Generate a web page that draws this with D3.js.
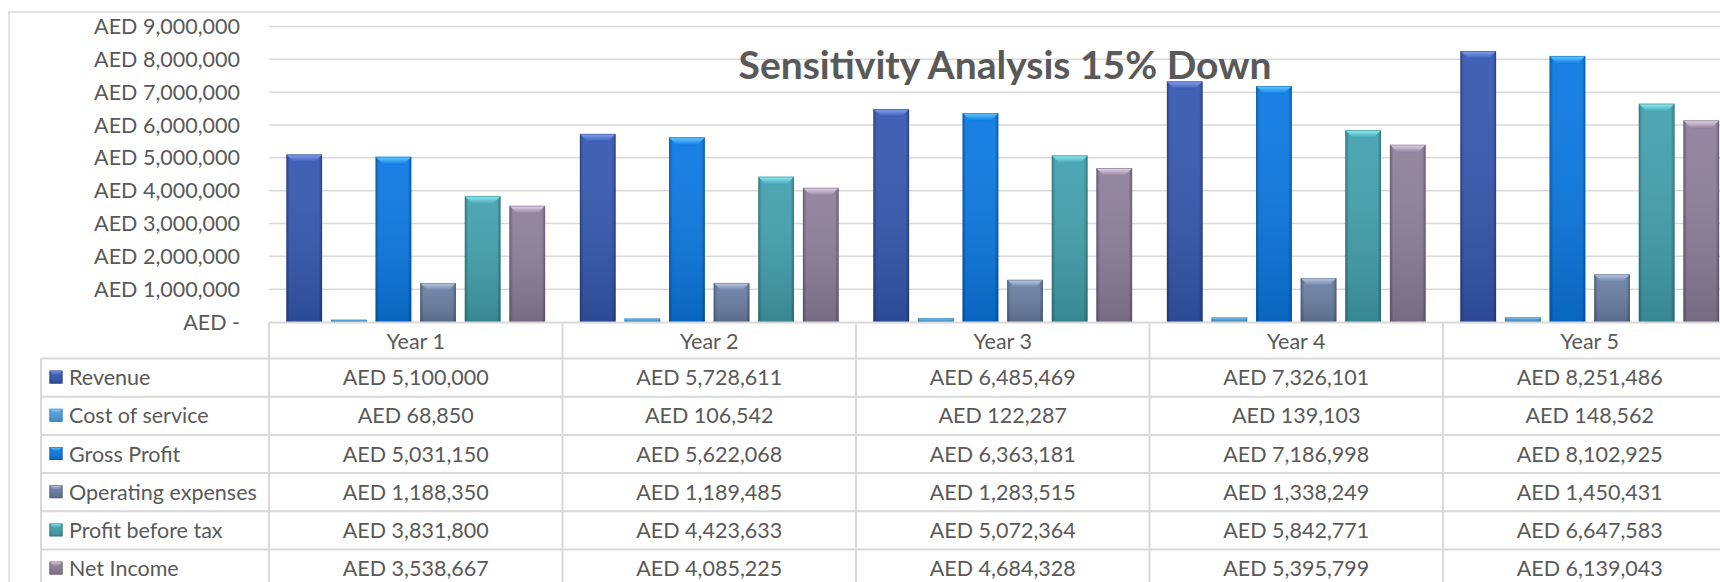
<!DOCTYPE html>
<html>
<head>
<meta charset="utf-8">
<script src="https://cdn.jsdelivr.net/npm/d3@7"></script>
<style>
  html, body { margin: 0; padding: 0; background: #ffffff; overflow: hidden; }
  svg { display: block; }
  text { font-family: Lato, "Noto Sans", sans-serif; fill: #595959; }
</style>
</head>
<body>
<svg id="chart" width="1720" height="582"></svg>
<script>
// ---- data ----
const years = ["Year 1", "Year 2", "Year 3", "Year 4", "Year 5"];
const seriesNames = ["Revenue", "Cost of service", "Gross Profit", "Operating expenses", "Profit before tax", "Net Income"];
const revenue           = [5100000, 5728611, 6485469, 7326101, 8251486];
const costOfService     = [68850, 106542, 122287, 139103, 148562];
const grossProfit       = [5031150, 5622068, 6363181, 7186998, 8102925];
const operatingExpenses = [1188350, 1189485, 1283515, 1338249, 1450431];
const profitBeforeTax   = [3831800, 4423633, 5072364, 5842771, 6647583];
const netIncome         = [3538667, 4085225, 4684328, 5395799, 6139043];
const yTicks = [0, 1000000, 2000000, 3000000, 4000000, 5000000, 6000000, 7000000, 8000000, 9000000];
const chartTitle = "Sensitivity Analysis 15% Down";

const seriesValues = [revenue, costOfService, grossProfit, operatingExpenses, profitBeforeTax, netIncome];

// per-series palette: body, bevel highlight, edge shade
const palette = [
  { base: "#3558b0", light: "#86a2f0", dark: "#243c82" },
  { base: "#4f9fdc", light: "#9ad0f4", dark: "#357fbc" },
  { base: "#0b79e3", light: "#66cdff", dark: "#0055ad" },
  { base: "#6a7fa3", light: "#bccbe6", dark: "#4a5a7a" },
  { base: "#42a1ae", light: "#93eef6", dark: "#2a747e" },
  { base: "#8d7f99", light: "#e6d6ee", dark: "#645870" }
];

// ---- layout ----
const W = 1720, H = 582;
const plotLeft = 269, bandStep = 293.5;
const yZero = 322, yTop = 26.5;
const tableLeft = 41;
const headerH = 36.5, rowH = 38.2;
const fontSize = 21.5;

const svg = d3.select("#chart");
const defs = svg.append("defs");

const x0 = d3.scaleBand().domain(years)
  .range([plotLeft, plotLeft + bandStep * years.length]).padding(0);
const x1 = d3.scaleBand().domain(seriesNames)
  .range([0, x0.bandwidth()]).paddingInner(0.2).paddingOuter(0.39);
const y = d3.scaleLinear().domain([0, 9000000]).range([yZero, yTop]);

const fmt = d => d === 0 ? "AED -" : "AED " + d3.format(",")(d);

// gradients for the bevelled bars
palette.forEach((p, i) => {
  const body = defs.append("linearGradient").attr("id", "body" + i)
    .attr("x1", 0).attr("x2", 1).attr("y1", 0).attr("y2", 0);
  body.append("stop").attr("offset", "0%").attr("stop-color", p.dark);
  body.append("stop").attr("offset", "10%").attr("stop-color", p.base);
  body.append("stop").attr("offset", "90%").attr("stop-color", p.base);
  body.append("stop").attr("offset", "100%").attr("stop-color", p.dark);

  const top = defs.append("linearGradient").attr("id", "top" + i)
    .attr("x1", 0).attr("x2", 0).attr("y1", 0).attr("y2", 1);
  top.append("stop").attr("offset", "0%").attr("stop-color", p.light);
  top.append("stop").attr("offset", "100%").attr("stop-color", p.base);
});
const shade = defs.append("linearGradient").attr("id", "shade")
  .attr("x1", 0).attr("x2", 0).attr("y1", 0).attr("y2", 1);
shade.append("stop").attr("offset", "0%").attr("stop-color", "#ffffff").attr("stop-opacity", 0.06);
shade.append("stop").attr("offset", "100%").attr("stop-color", "#000000").attr("stop-opacity", 0.16);

// outer chart frame
svg.append("rect")
  .attr("x", 9).attr("y", 12).attr("width", W + 40).attr("height", H + 40)
  .attr("fill", "none").attr("stroke", "#d9d9d9").attr("stroke-width", 1.5);

// gridlines
svg.append("g").selectAll("line").data(yTicks.filter(t => t > 0)).join("line")
  .attr("x1", plotLeft).attr("x2", W + 20)
  .attr("y1", d => y(d)).attr("y2", d => y(d))
  .attr("stroke", "#d9d9d9").attr("stroke-width", 1.5);

// y axis labels
svg.append("g").selectAll("text").data(yTicks).join("text")
  .attr("x", 240).attr("y", d => y(d)).attr("dy", "0.35em")
  .attr("text-anchor", "end").attr("font-size", fontSize)
  .text(fmt);

// bevelled bar shape
function drawBar(g, x, yTopPx, w, h, i, bev) {
  const b = Math.min(bev, h / 2, w / 2);
  g.append("rect").attr("x", x).attr("y", yTopPx).attr("width", w).attr("height", h)
    .attr("fill", `url(#body${i})`);
  g.append("rect").attr("x", x).attr("y", yTopPx).attr("width", w).attr("height", h)
    .attr("fill", "url(#shade)");
  g.append("polygon")
    .attr("points", [[x, yTopPx], [x + w, yTopPx], [x + w - b, yTopPx + b], [x + b, yTopPx + b]].map(p => p.join(",")).join(" "))
    .attr("fill", `url(#top${i})`);
  g.append("rect").attr("x", x + 0.4).attr("y", yTopPx + 0.4).attr("width", Math.max(0, w - 0.8)).attr("height", Math.max(0, h - 0.8))
    .attr("fill", "none").attr("stroke", palette[i].dark).attr("stroke-opacity", 0.55).attr("stroke-width", 0.8);
}

// bars
const barLayer = svg.append("g");
years.forEach((yr, j) => {
  seriesNames.forEach((s, i) => {
    const v = seriesValues[i][j];
    const bx = x0(yr) + x1(s);
    const by = y(v);
    drawBar(barLayer.append("g"), bx, by, x1.bandwidth(), yZero - by, i, 8);
  });
});

// data table
const table = svg.append("g");
const rowTop = yZero + headerH;
const tableRight = x0.range()[1];
const lineColor = "#d9d9d9";

// top border over year headers (axis line)
table.append("line").attr("x1", plotLeft).attr("x2", tableRight)
  .attr("y1", yZero + 0.5).attr("y2", yZero + 0.5)
  .attr("stroke", lineColor).attr("stroke-width", 2);
// horizontal row lines
d3.range(seriesNames.length + 1).forEach(r => {
  table.append("line").attr("x1", tableLeft).attr("x2", tableRight)
    .attr("y1", rowTop + r * rowH).attr("y2", rowTop + r * rowH)
    .attr("stroke", lineColor).attr("stroke-width", 2);
});
// vertical lines
table.append("line").attr("x1", tableLeft).attr("x2", tableLeft)
  .attr("y1", rowTop).attr("y2", H + 10)
  .attr("stroke", lineColor).attr("stroke-width", 2);
years.concat(["end"]).forEach((yr, j) => {
  const xx = plotLeft + j * x0.step();
  table.append("line").attr("x1", xx).attr("x2", xx)
    .attr("y1", yZero).attr("y2", H + 10)
    .attr("stroke", lineColor).attr("stroke-width", 2);
});

// year headers
table.selectAll("text.yr").data(years).join("text").attr("class", "yr")
  .attr("x", d => x0(d) + x0.bandwidth() / 2)
  .attr("y", yZero + headerH / 2 + 1).attr("dy", "0.35em")
  .attr("text-anchor", "middle").attr("font-size", fontSize)
  .text(d => d);

// rows: legend key, label, values
seriesNames.forEach((s, i) => {
  const cy = rowTop + i * rowH + rowH / 2;
  drawBar(table.append("g"), 49.5, cy - 7, 13, 13, i, 4.5);
  table.append("text").attr("x", 69).attr("y", cy).attr("dy", "0.35em")
    .attr("font-size", fontSize).text(s);
  years.forEach((yr, j) => {
    table.append("text")
      .attr("x", x0(yr) + x0.bandwidth() / 2).attr("y", cy).attr("dy", "0.35em")
      .attr("text-anchor", "middle").attr("font-size", fontSize)
      .text(fmt(seriesValues[i][j]));
  });
});

// title
svg.append("text")
  .attr("x", 1005).attr("y", 79)
  .attr("text-anchor", "middle").attr("font-size", 39).attr("font-weight", "bold")
  .text(chartTitle);
</script>
</body>
</html>
